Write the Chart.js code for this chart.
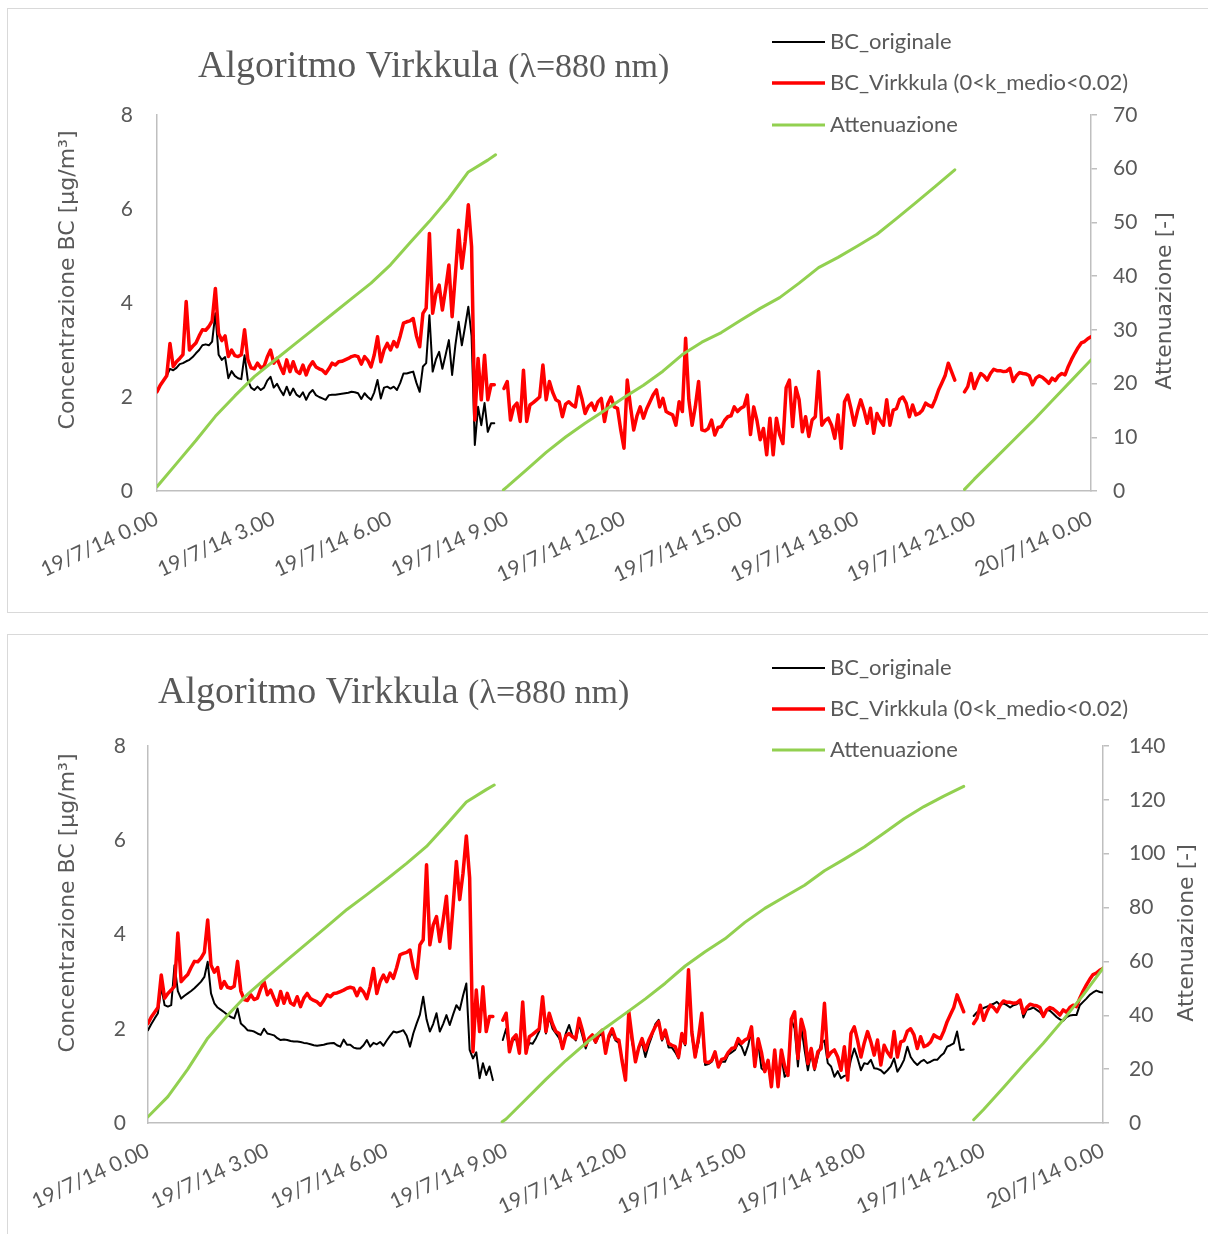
<!DOCTYPE html>
<html>
<head>
<meta charset="utf-8">
<title>Algoritmo Virkkula</title>
<script src="https://cdn.jsdelivr.net/npm/chart.js@4/dist/chart.umd.min.js"></script>
<style>
  html, body { margin: 0; padding: 0; background: #ffffff; }
  body { width: 1208px; height: 1234px; position: relative; overflow: hidden; }
  .panel { position: absolute; left: 7px; width: 1215px; border: 1px solid #d9d9d9; box-sizing: border-box; }
  #p1 { top: 8px; height: 605px; }
  #p2 { top: 634px; height: 640px; }
  canvas { position: absolute; left: 0; }
  #c1 { top: 0; }
  #c2 { top: 620px; }
</style>
</head>
<body>
<div class="panel" id="p1"></div>
<div class="panel" id="p2"></div>
<canvas id="c1" width="1208" height="620"></canvas>
<canvas id="c2" width="1208" height="614"></canvas>
<script>
// Time axis: 19/7/14 0.00 -> 20/7/14 0.00, labelled every 3 hours
const tickLabels = ['19/7/14 0.00', '19/7/14 3.00', '19/7/14 6.00', '19/7/14 9.00', '19/7/14 12.00',
                    '19/7/14 15.00', '19/7/14 18.00', '19/7/14 21.00', '20/7/14 0.00'];

// BC samples every 5 minutes from 0.00; one row per hour, null = no data
const SAMPLE_MINUTES = 5;

// BC_Virkkula (0<k_medio<0.02), µg/m³
const bcVirkkula = [
  2.11, 2.25, 2.35, 2.45, 3.14, 2.65, 2.75, 2.82, 2.9, 4.03, 3.0, 3.08,
  3.15, 3.3, 3.43, 3.42, 3.5, 3.62, 4.31, 3.35, 3.2, 3.3, 2.86, 3.0,
  2.88, 2.86, 2.9, 3.43, 2.8, 2.62, 2.6, 2.72, 2.62, 2.65, 2.85, 3.0,
  2.72, 2.82, 2.65, 2.5, 2.79, 2.54, 2.75, 2.55, 2.5, 2.68, 2.47, 2.65,
  2.75, 2.64, 2.6, 2.57, 2.5, 2.6, 2.72, 2.68, 2.75, 2.76, 2.79, 2.82,
  2.86, 2.88, 2.86, 2.7, 2.86, 2.78, 2.64, 2.9, 3.28, 2.75, 3.0, 3.14,
  3.0, 3.18, 3.07, 3.3, 3.57, 3.6, 3.62, 3.67, 3.3, 3.07, 3.78, 3.89,
  5.48, 3.78, 4.2, 4.38, 3.85, 4.3, 4.81, 3.71, 4.6, 5.55, 4.74, 5.3,
  6.09, 5.2, 1.51, 2.82, 1.94, 2.89, 1.94, 2.26, 2.26, null, null, 2.18,
  2.33, 1.51, 1.79, 1.87, 1.48, 2.57, 1.48, 1.83, 1.88, 1.94, 2.0, 2.68,
  1.94, 2.33, 2.1, 1.94, 1.9, 1.58, 1.85, 1.9, 1.83, 1.79, 2.22, 1.97,
  1.65, 1.8, 1.87, 1.72, 1.9, 1.97, 1.48, 1.85, 2.0, 1.79, 1.76, 1.3,
  0.91, 2.36, 1.8, 1.3, 1.6, 1.79, 1.55, 1.75, 1.9, 2.05, 2.15, 1.79,
  1.97, 1.69, 1.65, 1.62, 1.4, 1.9, 1.69, 3.25, 1.94, 1.4, 1.8, 2.33,
  1.3, 1.28, 1.33, 1.51, 1.19, 1.35, 1.37, 1.5, 1.58, 1.6, 1.79, 1.69,
  1.76, 1.8, 2.04, 1.2, 1.79, 1.5, 1.09, 1.33, 0.77, 1.55, 0.77, 1.55,
  1.2, 1.01, 2.2, 2.36, 1.37, 2.2, 1.94, 1.26, 1.58, 1.16, 1.51, 1.58,
  2.54, 1.4, 1.5, 1.55, 1.4, 1.12, 1.62, 0.91, 1.9, 2.04, 1.75, 1.4,
  1.7, 1.94, 1.72, 1.44, 1.76, 1.23, 1.65, 1.5, 1.4, 1.94, 1.4, 1.72,
  1.75, 1.95, 2.0, 1.87, 1.58, 1.83, 1.62, 1.65, 1.72, 1.87, 1.82, 1.79,
  1.95, 2.15, 2.3, 2.45, 2.72, 2.54, 2.36, null, null, 2.11, 2.22, 2.5,
  2.18, 2.36, 2.5, 2.45, 2.36, 2.5, 2.59, 2.56, 2.56, 2.54, 2.55, 2.61,
  2.33, 2.45, 2.52, 2.5, 2.49, 2.45, 2.26, 2.4, 2.45, 2.42, 2.36, 2.29,
  2.4, 2.35, 2.45, 2.5, 2.47, 2.65, 2.8, 2.93, 3.05, 3.15, 3.18, 3.24,
  3.28
];

// BC_originale, first panel (first filter spot, 0.00 - 8.40)
const bcOriginaleA = [
  2.11, 2.25, 2.35, 2.45, 2.6, 2.57, 2.62, 2.7, 2.72, 2.76, 2.79, 2.85,
  2.93, 3.0, 3.1, 3.12, 3.1, 3.18, 3.78, 2.9, 2.79, 2.85, 2.4, 2.55,
  2.45, 2.4, 2.38, 2.89, 2.36, 2.2, 2.15, 2.22, 2.15, 2.2, 2.35, 2.43,
  2.2, 2.28, 2.15, 2.04, 2.22, 2.04, 2.18, 2.05, 2.0, 2.1, 1.94, 2.08,
  2.15, 2.04, 2.0, 1.97, 1.94, 2.04, 2.05, 2.05, 2.06, 2.07, 2.08, 2.09,
  2.11, 2.1, 2.08, 1.96, 2.08, 2.0, 1.94, 2.1, 2.36, 1.97, 2.2, 2.22,
  2.18, 2.22, 2.15, 2.3, 2.5, 2.5, 2.52, 2.54, 2.3, 2.11, 2.65, 2.72,
  3.74, 2.54, 2.8, 2.96, 2.6, 2.9, 3.21, 2.47, 3.1, 3.6, 3.1, 3.5,
  3.92, 3.3, 0.98, 1.79, 1.4, 1.87, 1.26, 1.44, 1.44
];

// BC_originale, second panel
const bcOriginaleB = [
  1.97, 2.1, 2.22, 2.33, 2.89, 2.5, 2.47, 2.5, 3.35, 2.8, 2.64, 2.7,
  2.75, 2.8, 2.86, 2.93, 3.0, 3.1, 3.42, 2.75, 2.54, 2.45, 2.4, 2.35,
  2.29, 2.25, 2.22, 2.43, 2.11, 2.05, 1.97, 1.96, 1.94, 1.9, 1.87, 2.0,
  1.9, 1.88, 1.86, 1.8, 1.76, 1.77, 1.76, 1.74, 1.73, 1.73, 1.72, 1.7,
  1.69, 1.67, 1.65, 1.64, 1.65, 1.66, 1.68, 1.69, 1.7, 1.65, 1.62, 1.77,
  1.66, 1.66, 1.6, 1.58, 1.58, 1.65, 1.76, 1.62, 1.7, 1.67, 1.72, 1.64,
  1.75, 1.85, 1.94, 1.92, 1.94, 1.97, 1.85, 1.62, 1.9, 2.11, 2.3, 2.68,
  2.2, 1.94, 2.1, 2.33, 1.94, 2.1, 2.29, 2.08, 2.3, 2.5, 2.4, 2.7,
  2.96, 1.55, 1.37, 1.5, 0.95, 1.27, 1.02, 1.2, 0.91, null, null, 1.76,
  2.0, 1.55, 1.75, 1.8, 1.5, 2.45, 1.52, 1.7, 1.68, 1.8, 1.95, 2.6,
  1.9, 2.25, 2.0, 1.9, 1.8, 1.6, 1.9, 2.08, 1.85, 1.75, 2.1, 1.85,
  1.58, 1.8, 1.82, 1.7, 1.85, 1.9, 1.5, 1.8, 1.92, 1.75, 1.7, 1.35,
  1.0, 2.25, 1.7, 1.4, 1.6, 1.7, 1.4, 1.65, 1.85, 2.1, 2.19, 1.75,
  1.9, 1.6, 1.6, 1.5, 1.37, 1.8, 1.65, 3.1, 1.85, 1.4, 1.7, 2.2,
  1.23, 1.25, 1.3, 1.45, 1.2, 1.3, 1.3, 1.45, 1.5, 1.55, 1.7, 1.62,
  1.44, 1.65, 1.95, 1.2, 1.7, 1.16, 1.1, 1.25, 0.85, 1.45, 0.85, 1.4,
  0.98, 1.05, 2.2, 2.0, 1.2, 2.04, 1.55, 1.12, 1.48, 1.12, 1.41, 1.69,
  1.75, 1.27, 1.2, 0.98, 1.1, 0.95, 1.0, 1.02, 1.35, 1.58, 1.37, 1.12,
  1.27, 1.25, 1.34, 1.16, 1.15, 1.12, 1.05, 1.12, 1.2, 1.37, 1.09, 1.2,
  1.34, 1.62, 1.4, 1.3, 1.23, 1.3, 1.34, 1.27, 1.3, 1.34, 1.34, 1.42,
  1.48, 1.62, 1.65, 1.69, 1.94, 1.55, 1.56, null, null, 2.27, 2.35, 2.4,
  2.44, 2.47, 2.5, 2.53, 2.57, 2.5, 2.54, 2.5, 2.45, 2.5, 2.52, 2.57,
  2.24, 2.4, 2.42, 2.45, 2.4, 2.35, 2.26, 2.4, 2.38, 2.32, 2.25, 2.2,
  2.17, 2.25, 2.28, 2.29, 2.29, 2.5, 2.57, 2.64, 2.72, 2.77, 2.81, 2.78,
  2.77
];

// Attenuation, sampled by hour of day (null separates filter spots)
const attHours = [0, 0.5, 1, 1.5, 2, 2.5, 3, 3.5, 4, 4.5, 5, 5.5, 6, 6.5, 7, 7.5, 8, 8.5, 8.7,
  8.8,
  8.9, 9, 9.5, 10, 10.5, 11, 11.5, 12, 12.5, 13, 13.5, 14, 14.5, 15, 15.5, 16, 16.5, 17, 17.5,
  18, 18.5, 19, 19.5, 20, 20.5,
  20.6,
  20.75, 21, 21.5, 22, 22.5, 23, 23.5, 24];

const attenuazioneA = [0.8, 5.1, 9.4, 13.9, 17.7, 21.3, 24.2, 27.1, 30.0, 32.9, 35.8, 38.7, 42.1, 46.2, 50.2, 54.5, 59.4, 61.6, 62.6,
  null,
  0.2, 0.8, 4.0, 7.2, 10.05, 12.6, 15.0, 17.4, 19.7, 22.3, 25.4, 27.7, 29.5, 31.8, 34.0, 36.0, 38.7, 41.6, 43.5,
  45.6, 47.8, 50.7, 53.7, 56.7, 59.8,
  null,
  0.3, 2.2, 5.8, 9.4, 13.0, 16.8, 20.6, 24.4];

const attenuazioneB = [2.3, 9.8, 20.0, 31.5, 40.0, 47.8, 54.3, 60.6, 66.8, 73.0, 79.3, 84.8, 90.5, 96.4, 102.7, 110.8, 119.2, 123.8, 125.5,
  null,
  0.5, 1.5, 8.8, 16.2, 23.2, 29.6, 35.4, 40.7, 46.1, 51.9, 58.3, 63.6, 68.4, 74.5, 79.7, 84.0, 88.3, 93.7, 98.0,
  102.5, 107.7, 113.0, 117.5, 121.4, 125.0,
  null,
  1.2, 5.0, 13.2, 21.5, 29.6, 38.3, 47.5, 57.5];

const TITLE_MAIN = 'Algoritmo Virkkula ';
const TITLE_SUB = '(λ=880 nm)';
const Y_TITLE = 'Concentrazione BC [µg/m³]';
const Y1_TITLE = 'Attenuazione [-]';

const GREY = '#595959';
const AXIS = '#bfbfbf';
const SANS = "Lato, 'Open Sans', sans-serif";

function bcPoints(values) {
  return values.map((v, j) => ({ x: j * SAMPLE_MINUTES / 60, y: v }));
}
function attPoints(values) {
  return attHours.map((h, i) => ({ x: h, y: values[i] }));
}

// Title, legend and axis titles drawn straight onto the canvas
const panelText = {
  id: 'panelText',
  afterDraw(chart, args, o) {
    const ctx = chart.ctx;
    ctx.save();
    ctx.fillStyle = GREY;
    ctx.textAlign = 'left';
    ctx.textBaseline = 'alphabetic';
    ctx.font = "38px 'Liberation Serif'";
    ctx.fillText(TITLE_MAIN, o.title.x, o.title.y);
    const w = ctx.measureText(TITLE_MAIN).width;
    ctx.font = "34px 'Liberation Serif'";
    ctx.fillText(TITLE_SUB, o.title.x + w, o.title.y);

    ctx.font = '22px ' + SANS;
    ctx.textBaseline = 'middle';
    chart.data.datasets.forEach((ds, i) => {
      const y = o.legend.y[i];
      ctx.strokeStyle = ds.borderColor;
      ctx.lineWidth = ds.borderWidth;
      ctx.lineCap = 'butt';
      ctx.beginPath();
      ctx.moveTo(o.legend.x1, y);
      ctx.lineTo(o.legend.x2, y);
      ctx.stroke();
      ctx.fillText(ds.label, o.legend.tx, y);
    });

    ctx.font = "22px 'DejaVu Sans'";
    ctx.textAlign = 'center';
    [[Y_TITLE, o.yTitle], [Y1_TITLE, o.y1Title]].forEach(([txt, p]) => {
      ctx.save();
      ctx.translate(p.x, p.y);
      ctx.rotate(-Math.PI / 2);
      ctx.fillText(txt, 0, 0);
      ctx.restore();
    });
    ctx.restore();
  }
};

function makeChart(canvasId, spec) {
  const W = spec.width, H = spec.height, a = spec.area;
  const LEFT_W = 60, RIGHT_W = 100, AX_H = 90;
  const tickFont = { family: SANS, size: 21 };
  return new Chart(document.getElementById(canvasId), {
    type: 'line',
    data: {
      datasets: [
        { label: 'BC_originale', data: bcPoints(spec.originale), yAxisID: 'y',
          borderColor: '#000000', borderWidth: 2, order: 3 },
        { label: 'BC_Virkkula (0<k_medio<0.02)', data: bcPoints(bcVirkkula), yAxisID: 'y',
          borderColor: '#ff0000', borderWidth: 3.5, order: 2 },
        { label: 'Attenuazione', data: attPoints(spec.attenuazione), yAxisID: 'y1',
          borderColor: '#92d050', borderWidth: 3, order: 1 }
      ]
    },
    options: {
      responsive: false,
      animation: false,
      spanGaps: false,
      elements: {
        point: { radius: 0, hoverRadius: 0 },
        line: { tension: 0, borderJoinStyle: 'round', borderCapStyle: 'round', fill: false }
      },
      layout: {
        padding: { left: a.left - LEFT_W, right: W - a.right - RIGHT_W, top: a.top, bottom: H - a.bottom - AX_H }
      },
      plugins: {
        legend: { display: false },
        tooltip: { enabled: false },
        title: { display: false },
        panelText: spec.text
      },
      scales: {
        x: {
          type: 'linear', min: 0, max: 24,
          afterFit: s => { s.height = AX_H; },
          grid: { display: false },
          border: { display: true, color: AXIS, width: 1.5 },
          ticks: {
            stepSize: 3, autoSkip: false, maxRotation: 25, minRotation: 25,
            padding: 7, color: GREY, font: tickFont,
            callback: v => tickLabels[Math.round(v / 3)]
          }
        },
        y: {
          type: 'linear', position: 'left', min: 0, max: 8,
          afterFit: s => { s.width = LEFT_W; },
          grid: { display: false },
          border: { display: true, color: AXIS, width: 1.5 },
          ticks: { stepSize: 2, padding: spec.yPad, color: GREY, font: tickFont }
        },
        y1: {
          type: 'linear', position: 'right', min: 0, max: spec.attMax,
          afterFit: s => { s.width = RIGHT_W; },
          grid: { display: true, drawOnChartArea: false, drawTicks: true, tickLength: 6, color: AXIS, lineWidth: 1.5 },
          border: { display: true, color: AXIS, width: 1.5 },
          ticks: { stepSize: spec.attStep, padding: spec.y1Pad, color: GREY, font: tickFont }
        }
      }
    },
    plugins: [panelText]
  });
}

makeChart('c1', {
  width: 1208, height: 620,
  area: { left: 157, right: 1091, top: 115, bottom: 491 },
  originale: bcOriginaleA, attenuazione: attenuazioneA,
  attMax: 70, attStep: 10, yPad: 16, y1Pad: 16,
  text: {
    title: { x: 198, y: 77 },
    legend: { x1: 772, x2: 825, tx: 830, y: [42, 83, 125] },
    yTitle: { x: 68, y: 280 },
    y1Title: { x: 1165, y: 301 }
  }
});

makeChart('c2', {
  width: 1208, height: 614,
  area: { left: 148, right: 1103, top: 126, bottom: 503 },
  originale: bcOriginaleB, attenuazione: attenuazioneB,
  attMax: 140, attStep: 20, yPad: 14, y1Pad: 20,
  text: {
    title: { x: 158, y: 83 },
    legend: { x1: 772, x2: 825, tx: 830, y: [48, 89, 130] },
    yTitle: { x: 68, y: 283 },
    y1Title: { x: 1187, y: 313 }
  }
});
</script>
</body>
</html>
